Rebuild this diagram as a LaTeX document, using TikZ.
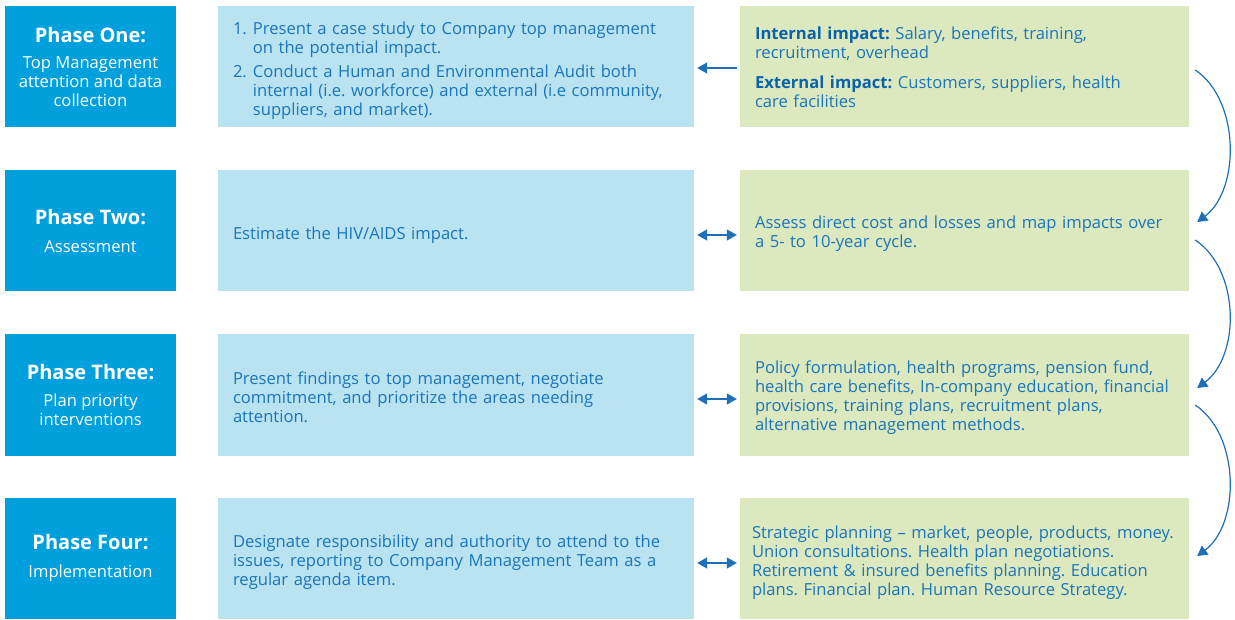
\documentclass[tikz,border=0pt]{standalone}
\usepackage{fontspec}
\setmainfont{Open Sans}
\usetikzlibrary{positioning, arrows.meta}
\frenchspacing

\definecolor{phaseblue}{HTML}{00A0DC}
\definecolor{actionblue}{HTML}{BAE3F1}
\definecolor{impactgreen}{HTML}{DCE9BF}
\definecolor{inkblue}{HTML}{1A75BC}
\definecolor{darkink}{HTML}{0B62AA}
\definecolor{arrowblue}{HTML}{1C6FB8}

\newcommand\bodysize{\fontsize{16.6}{19}\selectfont}
\newcommand\headsize{\fontsize{20}{23}\selectfont\bfseries}

\tikzset{
  phasebox/.style={fill=phaseblue, text=white, minimum width=171pt, minimum height=121pt,
    align=center, inner sep=0pt, font=\bodysize},
  actionbox/.style={fill=actionblue, minimum width=476pt, minimum height=121pt, inner sep=0pt},
  impactbox/.style={fill=impactgreen, minimum width=449pt, minimum height=121pt, inner sep=0pt},
  actiontext/.style={text=inkblue, text width=446pt, inner xsep=15pt, inner ysep=0pt,
    align=left, font=\bodysize},
  impacttext/.style={text=inkblue, text width=419pt, inner xsep=15pt, inner ysep=0pt,
    align=left, font=\bodysize},
  link/.style={arrowblue, line width=1.5pt, shorten <=3pt, shorten >=3pt},
  turn/.style={arrowblue, line width=1.2pt}
}

\begin{document}
\begin{tikzpicture}[x=1pt, y=-1pt, >={Triangle[length=10pt,width=11pt]}]
\useasboundingbox (0,0) rectangle (1235,620);

% phases
\node[phasebox] (p1) at (90.5,67) {{\headsize Phase One:}\\[7pt]Top Management\\attention and data\\collection};
\node[phasebox] (p2) at (90.5,231) {{\headsize Phase Two:}\\[9pt]Assessment};
\node[phasebox] (p3) at (90.5,395) {{\headsize Phase Three:}\\[8pt]Plan priority\\interventions};
\node[phasebox] (p4) at (90.5,558) {{\headsize Phase Four:}\\[9pt]Implementation};

% actions
\node[actionbox] (l1) at (456,67) {};
\node[actionbox] (l2) at (456,231) {};
\node[actionbox] (l3) at (456,395) {};
\node[actionbox] (l4) at (456,558) {};

\node[actiontext] (l1t) at ([yshift=-4pt]l1.center) {%
  \begin{tabular}{@{}l@{\hspace{6pt}}l@{}}
  1. & Present a case study to Company top management\\
     & on the potential impact.\\[5pt]
  2. & Conduct a Human and Environmental Audit both\\
     & internal (i.e. workforce) and external (i.e community,\\
     & suppliers, and market).
  \end{tabular}};
\node[actiontext] (l2t) at ([yshift=-4pt]l2.center) {Estimate the HIV/AIDS impact.};
\node[actiontext] (l3t) at ([yshift=-2pt]l3.center) {Present findings to top management, negotiate\\commitment, and prioritize the areas needing\\attention.};
\node[actiontext] (l4t) at ([yshift=-4pt]l4.center) {Designate responsibility and authority to attend to the\\issues, reporting to Company Management Team as a\\regular agenda item.};

% impacts
\node[impactbox] (g1) at (964.5,67) {};
\node[impactbox] (g2) at (964.5,231) {};
\node[impactbox] (g3) at (964.5,395) {};
\node[impactbox] (g4) at (964.5,558) {};

\node[impacttext] (g1t) at (g1.center) {{\color{darkink}\bfseries Internal impact:} Salary, benefits, training,\\recruitment, overhead\\[11pt]{\color{darkink}\bfseries External impact:} Customers, suppliers, health\\care facilities};
\node[impacttext] (g2t) at ([yshift=-3pt]g2.center) {Assess direct cost and losses and map impacts over\\a 5- to 10-year cycle.};
\node[impacttext] (g3t) at ([yshift=-3pt]g3.center) {Policy formulation, health programs, pension fund,\\health care benefits, In-company education, financial\\provisions, training plans, recruitment plans,\\alternative management methods.};
\node[impacttext, inner xsep=12pt, text width=425pt] (g4t) at ([yshift=-5pt]g4.center) {Strategic planning -- market, people, products, money.\\Union consultations. Health plan negotiations.\\Retirement \& insured benefits planning. Education\\plans. Financial plan. Human Resource Strategy.};

% links between columns
\draw[link, <-] ([yshift=-1pt]l1.east) -- ([yshift=-1pt]g1.west);
\draw[link, <->] ([yshift=-4pt]l2.east) -- ([yshift=-4pt]g2.west);
\draw[link, <->] ([yshift=-4pt]l3.east) -- ([yshift=-4pt]g3.west);
\draw[link, <->] ([yshift=-5pt]l4.east) -- ([yshift=-5pt]g4.west);

% curved links down the right side
\foreach \a/\b/\s/\e in {g1/g2/3/9, g2/g3/9/7, g3/g4/10/2}
  \draw[turn, ->] ([xshift=6pt,yshift=-\s pt]\a.east) .. controls +(45,30) and +(43,-32) .. ([xshift=8pt,yshift=\e pt]\b.east);

\end{tikzpicture}
\end{document}
